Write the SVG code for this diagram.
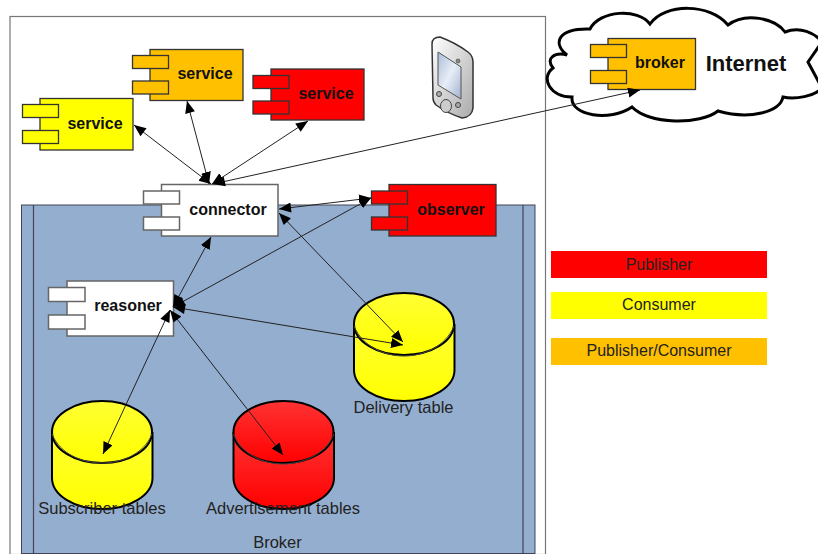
<svg xmlns="http://www.w3.org/2000/svg" width="818" height="554" viewBox="0 0 818 554">
<style>
.b{stroke:#333;stroke-width:1.3}
.w{fill:#fff;stroke:#666;stroke-width:1.5}
.y{fill:#ff0}.o{fill:#ffc000}.r{fill:#f00}
.t{font-family:"Liberation Sans",Arial,sans-serif;font-weight:bold;font-size:16px;fill:#111;text-anchor:middle}
.l{font-family:"Liberation Sans",Arial,sans-serif;font-size:16.5px;fill:#222;text-anchor:middle}
.c{stroke:#222;stroke-width:1;fill:none;marker-start:url(#s);marker-end:url(#e)}
.cy{stroke:#000;stroke-width:2}
.rim{fill:none;stroke:#444;stroke-width:1}
</style>
<defs>
<marker id="e" markerUnits="userSpaceOnUse" markerWidth="14" markerHeight="12" refX="12" refY="5" orient="auto"><path d="M0 0L12 5L0 10z" fill="#000"/></marker>
<marker id="s" markerUnits="userSpaceOnUse" markerWidth="14" markerHeight="12" refX="0" refY="5" orient="auto"><path d="M12 0L0 5L12 10z" fill="#000"/></marker>
<linearGradient id="gy" x1="0" y1="0" x2="0" y2="1"><stop offset="0" stop-color="#ffff33"/><stop offset="1" stop-color="#ffff00"/></linearGradient>
<linearGradient id="gr" x1="0" y1="0" x2="0" y2="1"><stop offset="0" stop-color="#ff3333"/><stop offset="1" stop-color="#ff0000"/></linearGradient>
<linearGradient id="ph" x1="0" y1="0" x2="1" y2="1"><stop offset="0" stop-color="#fff"/><stop offset="1" stop-color="#aaa"/></linearGradient>
<linearGradient id="sc" x1="0" y1="0" x2="1" y2="1"><stop offset="0" stop-color="#a9bcd6"/><stop offset=".5" stop-color="#e8eef8"/><stop offset="1" stop-color="#9fb2cf"/></linearGradient>
<g id="cyl"><path class="cy" d="M0 31V77C0 94 22 108 50 108S100.500 94 100.500 77V31"/><ellipse class="cy" cx="50" cy="31" rx="50" ry="31"/></g>
</defs>
<rect width="818" height="554" fill="#fff"/>
<rect id="frame" x="10" y="16.500" width="535.500" height="538" fill="#fff" stroke="#777" stroke-width="1.200"/>
<g id="broker-area">
<rect x="21.500" y="205" width="513.500" height="348.500" fill="#94aecf" stroke="#445" stroke-width="1"/>
<path d="M33.500 205V553.500M523 205V553.500" stroke="#445" stroke-width="1.200"/>
<text class="l" x="277.500" y="548">Broker</text>
</g>
<g id="phone">
<path d="M432 44Q432 37 440 37Q456 43 468 52Q473 56 473 62L473 108Q472 117 462 118Q447 113 436 105Q433 102 433 98z" fill="url(#ph)" stroke="#333" stroke-width="1.500"/>
<path d="M438 52L461 67V99L438 85z" fill="url(#sc)" stroke="#555"/>
<circle cx="458" cy="61" r="2" fill="#888" stroke="#444" stroke-width=".6"/>
<ellipse cx="446" cy="106" rx="5.500" ry="6.500" fill="#ccc" stroke="#444"/>
<circle cx="439" cy="94" r="2.500" fill="#aaa" stroke="#444"/>
<circle cx="458" cy="105" r="2.500" fill="#aaa" stroke="#444"/>
</g>
<g id="cloud">
<path d="M567 55C552 43 558 28 590 29C600 10 638 8 650 24C665 3 710 3 728 25C745 12 775 18 785 32C800 26 815 33 822 42L808 62L822 88C815 96 795 100 783 97C780 112 750 120 718 111C700 125 650 125 632 107C610 122 570 116 572 97C550 97 540 78 553 68C545 58 555 52 567 55z" fill="#fff" stroke="#000" stroke-width="3"/>
<text x="746" y="71" font-family="'Liberation Sans',Arial,sans-serif" font-weight="bold" font-size="22" text-anchor="middle" fill="#111">Internet</text>
</g>
<g id="service-yellow"><rect class="b y" x="40" y="98.500" width="93" height="51.500"/><rect class="b y" x="22.500" y="104.500" width="36" height="13"/><rect class="b y" x="22.500" y="130.500" width="36" height="13"/><text class="t" x="95" y="129">service</text></g>
<g id="service-orange"><rect class="b o" x="150" y="49.500" width="93" height="51"/><rect class="b o" x="132.500" y="55.500" width="36" height="13"/><rect class="b o" x="132.500" y="81" width="36" height="13"/><text class="t" x="205" y="79">service</text></g>
<g id="service-red"><rect class="b r" x="271" y="69" width="93" height="51"/><rect class="b r" x="253" y="75.500" width="36" height="13"/><rect class="b r" x="253" y="101" width="36" height="13"/><text class="t" x="326" y="99">service</text></g>
<g id="broker"><rect class="b o" x="608" y="38.500" width="87.500" height="51"/><rect class="b o" x="590.500" y="44.500" width="36" height="13"/><rect class="b o" x="590.500" y="70.500" width="36" height="13"/><text class="t" x="660" y="68">broker</text></g>
<g id="connector"><rect class="w" x="161.500" y="184.500" width="116.500" height="51.500"/><rect class="w" x="143.500" y="191" width="36" height="13"/><rect class="w" x="143.500" y="217" width="36" height="13"/><text class="t" x="228" y="215">connector</text></g>
<g id="observer"><rect class="b r" x="389" y="184.500" width="107" height="51.500"/><rect class="b r" x="371.500" y="191" width="36" height="13"/><rect class="b r" x="371.500" y="217" width="36" height="13"/><text class="t" x="451" y="215">observer</text></g>
<g id="reasoner"><rect class="w" x="67" y="281" width="106.500" height="55"/><rect class="w" x="48.500" y="287.500" width="36.500" height="14"/><rect class="w" x="48.500" y="315" width="36.500" height="14"/><text class="t" x="128" y="311">reasoner</text></g>
<g id="delivery-table"><use href="#cyl" x="354" y="293" fill="url(#gy)"/><path class="rim" d="M354 326C362 346 384 356 404 356S446 346 454 326"/><text class="l" x="403.500" y="413">Delivery table</text></g>
<g id="subscriber-tables"><use href="#cyl" x="52" y="401" fill="url(#gy)"/><path class="rim" d="M52 434C60 454 82 463 102 463S144 454 152 434"/><text class="l" x="102" y="514">Subscriber tables</text></g>
<g id="advertisement-tables"><use href="#cyl" x="233.500" y="401" fill="url(#gr)"/><path class="rim" d="M233.500 434C241 454 263 464 283 464S326 454 334 434"/><text class="l" x="283" y="514">Advertisement tables</text></g>
<g id="connectors">
<path class="c" d="M134 125L211 184"/>
<path class="c" d="M187 101L209 184"/>
<path class="c" d="M308 121L212 184"/>
<path class="c" d="M213 184L640 90"/>
<path class="c" d="M279 209L371 198"/>
<path class="c" d="M279 213L403 342"/>
<path class="c" d="M173 307L211 237"/>
<path class="c" d="M173 307L371 198"/>
<path class="c" d="M173 307L403 345"/>
<path class="c" d="M170 310L103 454"/>
<path class="c" d="M170 310L283 455"/>
</g>
<g id="legend">
<rect class="r" x="551" y="251" width="216" height="27"/><text class="l" x="659" y="270" style="font-size:16px">Publisher</text>
<rect class="y" x="551" y="292" width="216" height="27"/><text class="l" x="659" y="310" style="font-size:16px">Consumer</text>
<rect class="o" x="551" y="338" width="216" height="27"/><text class="l" x="659" y="356" style="font-size:16px">Publisher/Consumer</text>
</g>
</svg>
